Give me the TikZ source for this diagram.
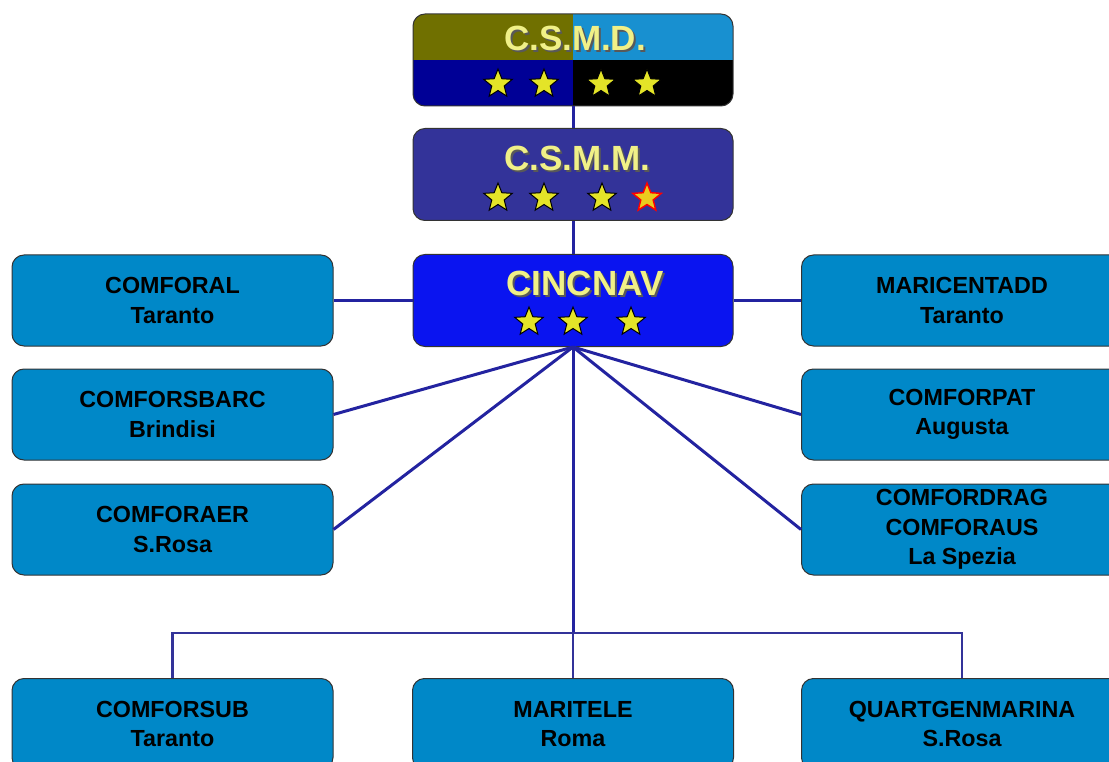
\documentclass[tikz,border=0pt]{standalone}
\usepackage{fontspec}
\setmainfont{Liberation Sans}
\usetikzlibrary{shapes.geometric}
\definecolor{boxblue}{RGB}{0,136,200}
\definecolor{olivetop}{RGB}{112,112,0}
\definecolor{csmdblue}{RGB}{24,144,208}
\definecolor{navyq}{RGB}{0,0,150}
\definecolor{csmmfill}{RGB}{51,51,153}
\definecolor{cincfill}{RGB}{10,20,240}
\definecolor{conn}{RGB}{35,35,160}
\definecolor{titley}{RGB}{240,240,135}
\definecolor{stary}{RGB}{228,228,40}
\tikzset{
  unitbox/.style={draw=black!80, line width=1pt, rounded corners=12pt, fill=boxblue,
    minimum width=321pt, minimum height=91pt, align=center,
    font=\fontsize{23.3}{29.5}\selectfont\bfseries, text=black},
  topbox/.style={draw=black!80, line width=1pt, rounded corners=12pt,
    minimum width=320pt, minimum height=92pt},
  ttl/.style={font=\fontsize{35}{38}\selectfont\bfseries, text=titley, inner sep=0pt},
  ttlshadow/.style={font=\fontsize{35}{38}\selectfont\bfseries, text=black!65, inner sep=0pt},
  starnode/.style={star, star points=5, star point ratio=2.3, fill=stary, draw=black,
    line width=1pt, minimum size=30pt, inner sep=0pt},
  redstar/.style={starnode, draw=red, line width=1.4pt, fill=stary!75!orange},
  link/.style={draw=conn, line width=3pt},
  thinlink/.style={draw=csmmfill, line width=2.4pt},
}
\begin{document}
\begin{tikzpicture}[x=1pt, y=-1pt]
\useasboundingbox (0,0) rectangle (1109,762);
% C.S.M.D. box quadrants
\begin{scope}
  \clip[rounded corners=12pt] (413,14) rectangle (733,106);
  \fill[olivetop] (413,14) rectangle (573,60);
  \fill[csmdblue] (573,14) rectangle (733,60);
  \fill[navyq] (413,60) rectangle (573,106);
  \fill[black] (573,60) rectangle (733,106);
\end{scope}
\node[topbox] (csmd) at (573,60) {};
\node[ttlshadow] (csmdsh) at (577,40) {C.S.M.D.};
\node[ttl] (csmdt) at (575,38) {C.S.M.D.};
\node[starnode] (sd1) at (498,84) {};
\node[starnode] (sd2) at (544,84) {};
\node[starnode] (sd3) at (601,84) {};
\node[starnode] (sd4) at (647,84) {};
% C.S.M.M.
\node[topbox, fill=csmmfill] (csmm) at (573,174.5) {};
\node[ttlshadow] (csmmsh) at (579,160) {C.S.M.M.};
\node[ttl] (csmmt) at (577,158) {C.S.M.M.};
\node[starnode] (sm1) at (498,198) {};
\node[starnode] (sm2) at (544,198) {};
\node[starnode] (sm3) at (602,198) {};
\node[redstar] (sm4) at (647,198) {};
% CINCNAV
\node[topbox, fill=cincfill] (cinc) at (573,300.5) {};
\node[ttlshadow] (cincsh) at (587,285) {CINCNAV};
\node[ttl] (cinct) at (585,283) {CINCNAV};
\node[starnode] (sc1) at (529,322) {};
\node[starnode] (sc2) at (573,322) {};
\node[starnode] (sc3) at (631,322) {};
% side boxes
\node[unitbox] (comforal) at (172.5,300.5) {COMFORAL\\Taranto};
\node[unitbox] (comforsbarc) at (172.5,414.5) {COMFORSBARC\\Brindisi};
\node[unitbox] (comforaer) at (172.5,529.5) {COMFORAER\\S.Rosa};
\node[unitbox] (maricent) at (962,300.5) {MARICENTADD\\Taranto};
\node[unitbox] (comforpat) at (962,414.5) {COMFORPAT\\Augusta};
\node[unitbox] (comfordrag) at (962,529.5) {COMFORDRAG\\COMFORAUS\\La Spezia};
% bottom boxes
\node[unitbox] (comforsub) at (172.5,724) {COMFORSUB\\Taranto};
\node[unitbox] (maritele) at (573,724) {MARITELE\\Roma};
\node[unitbox] (quart) at (962,724) {QUARTGENMARINA\\S.Rosa};
\coordinate (bus) at (573,633);
% connectors
\draw[link] (csmd.south) -- (csmm.north);
\draw[link] (csmm.south) -- (cinc.north);
\draw[link] (cinc.west) -- (comforal.east);
\draw[link] (cinc.east) -- (maricent.west);
\draw[link] (cinc.south) -- (comforsbarc.east);
\draw[link] (cinc.south) -- (comforaer.east);
\draw[link] (cinc.south) -- (comforpat.west);
\draw[link] (cinc.south) -- (comfordrag.west);
\draw[link] (cinc.south) -- (bus);
\draw[thinlink] (comforsub.north) |- (bus) -| (quart.north);
\draw[thinlink] (bus) -- (maritele.north);
\end{tikzpicture}
\end{document}
